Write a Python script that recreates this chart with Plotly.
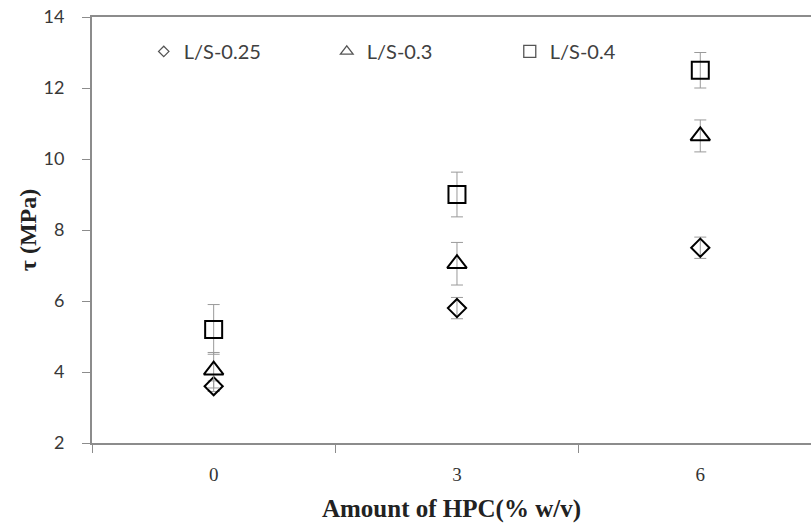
import plotly.graph_objects as go

# HPC amount (% w/v) categories
hpc = ["0", "3", "6"]

# Shear stress tau (MPa) per liquid/solid ratio, with error bar half-widths
tau_025 = [3.6, 5.8, 7.5]
err_025 = [0.15, 0.3, 0.3]
tau_03 = [4.05, 7.05, 10.65]
err_03 = [0.5, 0.6, 0.45]
tau_04 = [5.2, 9.0, 12.5]
err_04 = [0.7, 0.63, 0.5]

series = [
    ("L/S-0.25", tau_025, err_025, "diamond-open", 14, 8),
    ("L/S-0.3", tau_03, err_03, "triangle-up-open", 17, 11),
    ("L/S-0.4", tau_04, err_04, "square-open", 17, 12),
]

SANS = "Lato, Open Sans, sans-serif"
SERIF = "Liberation Serif, Times New Roman, serif"

fig = go.Figure()
for name, vals, errs, sym, size, key_size in series:
    fig.add_trace(go.Scatter(
        x=hpc, y=vals, name=name, mode="markers", showlegend=False,
        marker=dict(symbol=sym, size=size, color="black",
                    line=dict(width=2, color="black")),
        error_y=dict(type="data", array=errs, visible=True,
                     color="#9a9a9a", thickness=1, width=6),
    ))
    # smaller symbol for the legend key
    fig.add_trace(go.Scatter(
        x=[None], y=[None], name=name, mode="markers", showlegend=True,
        marker=dict(symbol=sym, size=key_size, color="#555555",
                    line=dict(width=1.3, color="#555555")),
    ))

fig.update_layout(
    width=811, height=527,
    margin=dict(l=92, r=0, t=17, b=84),
    paper_bgcolor="white", plot_bgcolor="white",
    showlegend=True,
    legend=dict(
        orientation="h", x=0.072, y=0.965, xanchor="left", yanchor="top",
        entrywidth=138, entrywidthmode="pixels",
        font=dict(family=SANS, size=20, color="#404040"),
        bgcolor="rgba(0,0,0,0)", itemwidth=30, tracegroupgap=0,
    ),
    xaxis=dict(
        type="category", categoryorder="array", categoryarray=hpc,
        range=[-0.5, 2.455],
        showline=True, linecolor="#8c8c8c", linewidth=2, mirror=True,
        ticks="outside", tickson="boundaries", ticklen=8, tickcolor="#8c8c8c",
        ticklabelstandoff=13,
        tickfont=dict(family=SERIF, size=19, color="#333333"),
        showgrid=False, zeroline=False,
        title=dict(text="<b>Amount of HPC(% w/v)</b>", standoff=16,
                   font=dict(family=SERIF, size=25, color="#222222")),
    ),
    yaxis=dict(
        range=[2, 14], dtick=2, tick0=2,
        showline=True, linecolor="#8c8c8c", linewidth=2, mirror=False,
        ticks="outside", ticklen=8, tickcolor="#8c8c8c",
        ticklabelstandoff=14,
        tickfont=dict(family=SANS, size=18, color="#383838"),
        showgrid=False, zeroline=False,
        title=dict(text="<b>τ (MPa)</b>", standoff=0,
                   font=dict(family=SERIF, size=24, color="#222222")),
    ),
)

fig.write_html("out.html")
